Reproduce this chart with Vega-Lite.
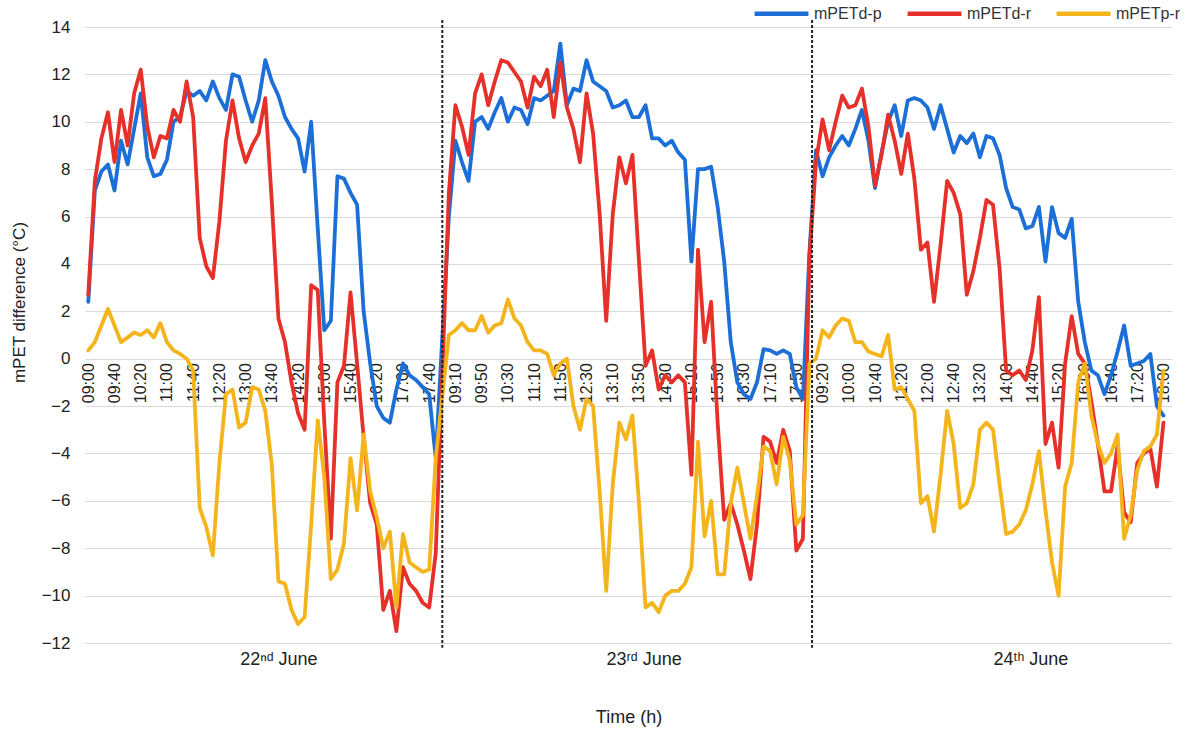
{
  "$schema": "https://vega.github.io/schema/vega-lite/v6.json",
  "width": 1087,
  "height": 616,
  "autosize": {"type": "none"},
  "padding": {"left": 85, "top": 27, "right": 18, "bottom": 93},
  "background": "white",
  "config": {"view": {"stroke": null}, "font": "Liberation Sans"},
  "layer": [
    {
      "data": {"values": [
        {"i":0,"day":"22 June","time":"09:00","mPETd-p":2.4,"mPETd-r":2.7,"mPETp-r":0.35},
        {"i":1,"day":"22 June","time":"09:10","mPETd-p":7.1,"mPETd-r":7.5,"mPETp-r":0.7},
        {"i":2,"day":"22 June","time":"09:20","mPETd-p":7.9,"mPETd-r":9.3,"mPETp-r":1.4},
        {"i":3,"day":"22 June","time":"09:30","mPETd-p":8.2,"mPETd-r":10.4,"mPETp-r":2.1},
        {"i":4,"day":"22 June","time":"09:40","mPETd-p":7.1,"mPETd-r":8.3,"mPETp-r":1.4},
        {"i":5,"day":"22 June","time":"09:50","mPETd-p":9.2,"mPETd-r":10.5,"mPETp-r":0.7},
        {"i":6,"day":"22 June","time":"10:00","mPETd-p":8.2,"mPETd-r":9.0,"mPETp-r":0.9},
        {"i":7,"day":"22 June","time":"10:10","mPETd-p":9.7,"mPETd-r":11.2,"mPETp-r":1.1},
        {"i":8,"day":"22 June","time":"10:20","mPETd-p":11.2,"mPETd-r":12.2,"mPETp-r":1.0},
        {"i":9,"day":"22 June","time":"10:30","mPETd-p":8.5,"mPETd-r":9.8,"mPETp-r":1.2},
        {"i":10,"day":"22 June","time":"10:40","mPETd-p":7.7,"mPETd-r":8.5,"mPETp-r":0.9},
        {"i":11,"day":"22 June","time":"10:50","mPETd-p":7.8,"mPETd-r":9.4,"mPETp-r":1.5},
        {"i":12,"day":"22 June","time":"11:00","mPETd-p":8.4,"mPETd-r":9.3,"mPETp-r":0.7},
        {"i":13,"day":"22 June","time":"11:10","mPETd-p":10.0,"mPETd-r":10.5,"mPETp-r":0.35},
        {"i":14,"day":"22 June","time":"11:20","mPETd-p":10.2,"mPETd-r":10.0,"mPETp-r":0.2},
        {"i":15,"day":"22 June","time":"11:30","mPETd-p":11.3,"mPETd-r":11.7,"mPETp-r":0.0},
        {"i":16,"day":"22 June","time":"11:40","mPETd-p":11.1,"mPETd-r":10.2,"mPETp-r":-0.5},
        {"i":17,"day":"22 June","time":"11:50","mPETd-p":11.3,"mPETd-r":5.1,"mPETp-r":-6.3},
        {"i":18,"day":"22 June","time":"12:00","mPETd-p":10.9,"mPETd-r":3.9,"mPETp-r":-7.1},
        {"i":19,"day":"22 June","time":"12:10","mPETd-p":11.7,"mPETd-r":3.4,"mPETp-r":-8.3},
        {"i":20,"day":"22 June","time":"12:20","mPETd-p":11.0,"mPETd-r":5.8,"mPETp-r":-4.4},
        {"i":21,"day":"22 June","time":"12:30","mPETd-p":10.5,"mPETd-r":9.2,"mPETp-r":-1.5},
        {"i":22,"day":"22 June","time":"12:40","mPETd-p":12.0,"mPETd-r":10.9,"mPETp-r":-1.3},
        {"i":23,"day":"22 June","time":"12:50","mPETd-p":11.9,"mPETd-r":9.3,"mPETp-r":-2.9},
        {"i":24,"day":"22 June","time":"13:00","mPETd-p":10.9,"mPETd-r":8.3,"mPETp-r":-2.7},
        {"i":25,"day":"22 June","time":"13:10","mPETd-p":10.0,"mPETd-r":9.0,"mPETp-r":-1.2},
        {"i":26,"day":"22 June","time":"13:20","mPETd-p":10.9,"mPETd-r":9.5,"mPETp-r":-1.3},
        {"i":27,"day":"22 June","time":"13:30","mPETd-p":12.6,"mPETd-r":11.0,"mPETp-r":-2.2},
        {"i":28,"day":"22 June","time":"13:40","mPETd-p":11.7,"mPETd-r":6.6,"mPETp-r":-4.5},
        {"i":29,"day":"22 June","time":"13:50","mPETd-p":11.1,"mPETd-r":1.7,"mPETp-r":-9.4},
        {"i":30,"day":"22 June","time":"14:00","mPETd-p":10.2,"mPETd-r":0.7,"mPETp-r":-9.5},
        {"i":31,"day":"22 June","time":"14:10","mPETd-p":9.7,"mPETd-r":-1.0,"mPETp-r":-10.6},
        {"i":32,"day":"22 June","time":"14:20","mPETd-p":9.3,"mPETd-r":-2.3,"mPETp-r":-11.2},
        {"i":33,"day":"22 June","time":"14:30","mPETd-p":7.9,"mPETd-r":-3.0,"mPETp-r":-10.9},
        {"i":34,"day":"22 June","time":"14:40","mPETd-p":10.0,"mPETd-r":3.1,"mPETp-r":-7.0},
        {"i":35,"day":"22 June","time":"14:50","mPETd-p":5.5,"mPETd-r":2.9,"mPETp-r":-2.6},
        {"i":36,"day":"22 June","time":"15:00","mPETd-p":1.2,"mPETd-r":-2.7,"mPETp-r":-5.0},
        {"i":37,"day":"22 June","time":"15:10","mPETd-p":1.6,"mPETd-r":-7.6,"mPETp-r":-9.3},
        {"i":38,"day":"22 June","time":"15:20","mPETd-p":7.7,"mPETd-r":-1.0,"mPETp-r":-8.9},
        {"i":39,"day":"22 June","time":"15:30","mPETd-p":7.6,"mPETd-r":-0.3,"mPETp-r":-7.8},
        {"i":40,"day":"22 June","time":"15:40","mPETd-p":7.0,"mPETd-r":2.8,"mPETp-r":-4.2},
        {"i":41,"day":"22 June","time":"15:50","mPETd-p":6.5,"mPETd-r":-0.2,"mPETp-r":-6.4},
        {"i":42,"day":"22 June","time":"16:00","mPETd-p":2.0,"mPETd-r":-3.3,"mPETp-r":-3.2},
        {"i":43,"day":"22 June","time":"16:10","mPETd-p":-0.2,"mPETd-r":-6.1,"mPETp-r":-5.6},
        {"i":44,"day":"22 June","time":"16:20","mPETd-p":-2.0,"mPETd-r":-7.0,"mPETp-r":-6.7},
        {"i":45,"day":"22 June","time":"16:30","mPETd-p":-2.5,"mPETd-r":-10.6,"mPETp-r":-8.0},
        {"i":46,"day":"22 June","time":"16:40","mPETd-p":-2.7,"mPETd-r":-9.8,"mPETp-r":-7.3},
        {"i":47,"day":"22 June","time":"16:50","mPETd-p":-1.3,"mPETd-r":-11.5,"mPETp-r":-10.5},
        {"i":48,"day":"22 June","time":"17:00","mPETd-p":-0.2,"mPETd-r":-8.8,"mPETp-r":-7.4},
        {"i":49,"day":"22 June","time":"17:10","mPETd-p":-0.7,"mPETd-r":-9.5,"mPETp-r":-8.6},
        {"i":50,"day":"22 June","time":"17:20","mPETd-p":-0.9,"mPETd-r":-9.8,"mPETp-r":-8.8},
        {"i":51,"day":"22 June","time":"17:30","mPETd-p":-1.2,"mPETd-r":-10.3,"mPETp-r":-9.0},
        {"i":52,"day":"22 June","time":"17:40","mPETd-p":-1.5,"mPETd-r":-10.5,"mPETp-r":-8.9},
        {"i":53,"day":"22 June","time":"17:50","mPETd-p":-4.2,"mPETd-r":-8.2,"mPETp-r":-4.2},
        {"i":55,"day":"23 June","time":"09:00","mPETd-p":6.0,"mPETd-r":7.0,"mPETp-r":1.0},
        {"i":56,"day":"23 June","time":"09:10","mPETd-p":9.2,"mPETd-r":10.7,"mPETp-r":1.2},
        {"i":57,"day":"23 June","time":"09:20","mPETd-p":8.3,"mPETd-r":9.8,"mPETp-r":1.5},
        {"i":58,"day":"23 June","time":"09:30","mPETd-p":7.5,"mPETd-r":8.6,"mPETp-r":1.2},
        {"i":59,"day":"23 June","time":"09:40","mPETd-p":10.0,"mPETd-r":11.2,"mPETp-r":1.2},
        {"i":60,"day":"23 June","time":"09:50","mPETd-p":10.2,"mPETd-r":12.0,"mPETp-r":1.8},
        {"i":61,"day":"23 June","time":"10:00","mPETd-p":9.7,"mPETd-r":10.7,"mPETp-r":1.1},
        {"i":62,"day":"23 June","time":"10:10","mPETd-p":10.4,"mPETd-r":11.7,"mPETp-r":1.4},
        {"i":63,"day":"23 June","time":"10:20","mPETd-p":11.0,"mPETd-r":12.6,"mPETp-r":1.5},
        {"i":64,"day":"23 June","time":"10:30","mPETd-p":10.0,"mPETd-r":12.5,"mPETp-r":2.5},
        {"i":65,"day":"23 June","time":"10:40","mPETd-p":10.6,"mPETd-r":12.1,"mPETp-r":1.7},
        {"i":66,"day":"23 June","time":"10:50","mPETd-p":10.5,"mPETd-r":11.7,"mPETp-r":1.4},
        {"i":67,"day":"23 June","time":"11:00","mPETd-p":9.9,"mPETd-r":10.6,"mPETp-r":0.7},
        {"i":68,"day":"23 June","time":"11:10","mPETd-p":11.0,"mPETd-r":11.9,"mPETp-r":0.35},
        {"i":69,"day":"23 June","time":"11:20","mPETd-p":10.9,"mPETd-r":11.5,"mPETp-r":0.35},
        {"i":70,"day":"23 June","time":"11:30","mPETd-p":11.1,"mPETd-r":12.2,"mPETp-r":0.2},
        {"i":71,"day":"23 June","time":"11:40","mPETd-p":11.3,"mPETd-r":10.2,"mPETp-r":-0.7},
        {"i":72,"day":"23 June","time":"11:50","mPETd-p":13.3,"mPETd-r":12.5,"mPETp-r":-0.2},
        {"i":73,"day":"23 June","time":"12:00","mPETd-p":10.7,"mPETd-r":10.6,"mPETp-r":0.0},
        {"i":74,"day":"23 June","time":"12:10","mPETd-p":11.4,"mPETd-r":9.7,"mPETp-r":-2.0},
        {"i":75,"day":"23 June","time":"12:20","mPETd-p":11.3,"mPETd-r":8.3,"mPETp-r":-3.0},
        {"i":76,"day":"23 June","time":"12:30","mPETd-p":12.6,"mPETd-r":11.2,"mPETp-r":-1.7},
        {"i":77,"day":"23 June","time":"12:40","mPETd-p":11.7,"mPETd-r":9.5,"mPETp-r":-2.0},
        {"i":78,"day":"23 June","time":"12:50","mPETd-p":11.5,"mPETd-r":6.1,"mPETp-r":-5.6},
        {"i":79,"day":"23 June","time":"13:00","mPETd-p":11.3,"mPETd-r":1.6,"mPETp-r":-9.8},
        {"i":80,"day":"23 June","time":"13:10","mPETd-p":10.6,"mPETd-r":6.1,"mPETp-r":-5.3},
        {"i":81,"day":"23 June","time":"13:20","mPETd-p":10.7,"mPETd-r":8.5,"mPETp-r":-2.7},
        {"i":82,"day":"23 June","time":"13:30","mPETd-p":10.9,"mPETd-r":7.4,"mPETp-r":-3.4},
        {"i":83,"day":"23 June","time":"13:40","mPETd-p":10.2,"mPETd-r":8.6,"mPETp-r":-2.4},
        {"i":84,"day":"23 June","time":"13:50","mPETd-p":10.2,"mPETd-r":4.1,"mPETp-r":-6.1},
        {"i":85,"day":"23 June","time":"14:00","mPETd-p":10.7,"mPETd-r":-0.3,"mPETp-r":-10.5},
        {"i":86,"day":"23 June","time":"14:10","mPETd-p":9.3,"mPETd-r":0.35,"mPETp-r":-10.3},
        {"i":87,"day":"23 June","time":"14:20","mPETd-p":9.3,"mPETd-r":-1.3,"mPETp-r":-10.7},
        {"i":88,"day":"23 June","time":"14:30","mPETd-p":9.0,"mPETd-r":-0.7,"mPETp-r":-10.0},
        {"i":89,"day":"23 June","time":"14:40","mPETd-p":9.2,"mPETd-r":-1.0,"mPETp-r":-9.8},
        {"i":90,"day":"23 June","time":"14:50","mPETd-p":8.7,"mPETd-r":-0.7,"mPETp-r":-9.8},
        {"i":91,"day":"23 June","time":"15:00","mPETd-p":8.4,"mPETd-r":-1.0,"mPETp-r":-9.5},
        {"i":92,"day":"23 June","time":"15:10","mPETd-p":4.1,"mPETd-r":-4.9,"mPETp-r":-8.8},
        {"i":93,"day":"23 June","time":"15:20","mPETd-p":8.0,"mPETd-r":4.6,"mPETp-r":-3.5},
        {"i":94,"day":"23 June","time":"15:30","mPETd-p":8.0,"mPETd-r":0.7,"mPETp-r":-7.5},
        {"i":95,"day":"23 June","time":"15:40","mPETd-p":8.1,"mPETd-r":2.4,"mPETp-r":-6.0},
        {"i":96,"day":"23 June","time":"15:50","mPETd-p":6.4,"mPETd-r":-2.7,"mPETp-r":-9.1},
        {"i":97,"day":"23 June","time":"16:00","mPETd-p":4.1,"mPETd-r":-6.8,"mPETp-r":-9.1},
        {"i":98,"day":"23 June","time":"16:10","mPETd-p":0.7,"mPETd-r":-6.1,"mPETp-r":-6.1},
        {"i":99,"day":"23 June","time":"16:20","mPETd-p":-1.0,"mPETd-r":-7.0,"mPETp-r":-4.6},
        {"i":100,"day":"23 June","time":"16:30","mPETd-p":-1.5,"mPETd-r":-8.1,"mPETp-r":-6.1},
        {"i":101,"day":"23 June","time":"16:40","mPETd-p":-1.7,"mPETd-r":-9.3,"mPETp-r":-7.6},
        {"i":102,"day":"23 June","time":"16:50","mPETd-p":-1.0,"mPETd-r":-7.0,"mPETp-r":-5.8},
        {"i":103,"day":"23 June","time":"17:00","mPETd-p":0.4,"mPETd-r":-3.3,"mPETp-r":-3.7},
        {"i":104,"day":"23 June","time":"17:10","mPETd-p":0.35,"mPETd-r":-3.5,"mPETp-r":-3.9},
        {"i":105,"day":"23 June","time":"17:20","mPETd-p":0.2,"mPETd-r":-4.4,"mPETp-r":-5.3},
        {"i":106,"day":"23 June","time":"17:30","mPETd-p":0.35,"mPETd-r":-3.0,"mPETp-r":-3.3},
        {"i":107,"day":"23 June","time":"17:40","mPETd-p":0.2,"mPETd-r":-3.9,"mPETp-r":-4.3},
        {"i":108,"day":"23 June","time":"17:50","mPETd-p":-1.2,"mPETd-r":-8.1,"mPETp-r":-7.0},
        {"i":109,"day":"23 June","time":"18:00","mPETd-p":-1.7,"mPETd-r":-7.6,"mPETp-r":-6.6},
        {"i":110,"day":"24 June","time":"09:00","mPETd-p":4.5,"mPETd-r":4.3,"mPETp-r":-0.2},
        {"i":111,"day":"24 June","time":"09:10","mPETd-p":8.8,"mPETd-r":8.3,"mPETp-r":0.0},
        {"i":112,"day":"24 June","time":"09:20","mPETd-p":7.7,"mPETd-r":10.1,"mPETp-r":1.2},
        {"i":113,"day":"24 June","time":"09:30","mPETd-p":8.5,"mPETd-r":8.8,"mPETp-r":0.9},
        {"i":114,"day":"24 June","time":"09:40","mPETd-p":9.0,"mPETd-r":10.0,"mPETp-r":1.4},
        {"i":115,"day":"24 June","time":"09:50","mPETd-p":9.4,"mPETd-r":11.1,"mPETp-r":1.7},
        {"i":116,"day":"24 June","time":"10:00","mPETd-p":9.0,"mPETd-r":10.6,"mPETp-r":1.6},
        {"i":117,"day":"24 June","time":"10:10","mPETd-p":9.7,"mPETd-r":10.7,"mPETp-r":0.7},
        {"i":118,"day":"24 June","time":"10:20","mPETd-p":10.5,"mPETd-r":11.4,"mPETp-r":0.7},
        {"i":119,"day":"24 June","time":"10:30","mPETd-p":9.2,"mPETd-r":9.8,"mPETp-r":0.3},
        {"i":120,"day":"24 June","time":"10:40","mPETd-p":7.2,"mPETd-r":7.3,"mPETp-r":0.2},
        {"i":121,"day":"24 June","time":"10:50","mPETd-p":8.7,"mPETd-r":8.6,"mPETp-r":0.1},
        {"i":122,"day":"24 June","time":"11:00","mPETd-p":10.0,"mPETd-r":10.3,"mPETp-r":1.0},
        {"i":123,"day":"24 June","time":"11:10","mPETd-p":10.7,"mPETd-r":9.2,"mPETp-r":-1.3},
        {"i":124,"day":"24 June","time":"11:20","mPETd-p":9.4,"mPETd-r":7.8,"mPETp-r":-1.2},
        {"i":125,"day":"24 June","time":"11:30","mPETd-p":10.9,"mPETd-r":9.5,"mPETp-r":-1.7},
        {"i":126,"day":"24 June","time":"11:40","mPETd-p":11.0,"mPETd-r":7.6,"mPETp-r":-2.2},
        {"i":127,"day":"24 June","time":"11:50","mPETd-p":10.9,"mPETd-r":4.6,"mPETp-r":-6.1},
        {"i":128,"day":"24 June","time":"12:00","mPETd-p":10.6,"mPETd-r":4.9,"mPETp-r":-5.8},
        {"i":129,"day":"24 June","time":"12:10","mPETd-p":9.7,"mPETd-r":2.4,"mPETp-r":-7.3},
        {"i":130,"day":"24 June","time":"12:20","mPETd-p":10.7,"mPETd-r":4.8,"mPETp-r":-4.9},
        {"i":131,"day":"24 June","time":"12:30","mPETd-p":9.7,"mPETd-r":7.5,"mPETp-r":-2.2},
        {"i":132,"day":"24 June","time":"12:40","mPETd-p":8.7,"mPETd-r":7.0,"mPETp-r":-3.6},
        {"i":133,"day":"24 June","time":"12:50","mPETd-p":9.4,"mPETd-r":6.1,"mPETp-r":-6.3},
        {"i":134,"day":"24 June","time":"13:00","mPETd-p":9.1,"mPETd-r":2.7,"mPETp-r":-6.1},
        {"i":135,"day":"24 June","time":"13:10","mPETd-p":9.5,"mPETd-r":3.7,"mPETp-r":-5.3},
        {"i":136,"day":"24 June","time":"13:20","mPETd-p":8.5,"mPETd-r":5.1,"mPETp-r":-3.0},
        {"i":137,"day":"24 June","time":"13:30","mPETd-p":9.4,"mPETd-r":6.7,"mPETp-r":-2.7},
        {"i":138,"day":"24 June","time":"13:40","mPETd-p":9.3,"mPETd-r":6.5,"mPETp-r":-3.0},
        {"i":139,"day":"24 June","time":"13:50","mPETd-p":8.6,"mPETd-r":3.8,"mPETp-r":-5.3},
        {"i":140,"day":"24 June","time":"14:00","mPETd-p":7.2,"mPETd-r":-0.5,"mPETp-r":-7.4},
        {"i":141,"day":"24 June","time":"14:10","mPETd-p":6.4,"mPETd-r":-0.7,"mPETp-r":-7.3},
        {"i":142,"day":"24 June","time":"14:20","mPETd-p":6.3,"mPETd-r":-0.5,"mPETp-r":-7.0},
        {"i":143,"day":"24 June","time":"14:30","mPETd-p":5.5,"mPETd-r":-0.9,"mPETp-r":-6.4},
        {"i":144,"day":"24 June","time":"14:40","mPETd-p":5.6,"mPETd-r":0.35,"mPETp-r":-5.3},
        {"i":145,"day":"24 June","time":"14:50","mPETd-p":6.4,"mPETd-r":2.6,"mPETp-r":-3.9},
        {"i":146,"day":"24 June","time":"15:00","mPETd-p":4.1,"mPETd-r":-3.6,"mPETp-r":-6.4},
        {"i":147,"day":"24 June","time":"15:10","mPETd-p":6.4,"mPETd-r":-2.7,"mPETp-r":-8.6},
        {"i":148,"day":"24 June","time":"15:20","mPETd-p":5.3,"mPETd-r":-4.6,"mPETp-r":-10.0},
        {"i":149,"day":"24 June","time":"15:30","mPETd-p":5.1,"mPETd-r":-0.2,"mPETp-r":-5.4},
        {"i":150,"day":"24 June","time":"15:40","mPETd-p":5.9,"mPETd-r":1.8,"mPETp-r":-4.4},
        {"i":151,"day":"24 June","time":"15:50","mPETd-p":2.4,"mPETd-r":0.2,"mPETp-r":-1.0},
        {"i":152,"day":"24 June","time":"16:00","mPETd-p":0.7,"mPETd-r":-0.2,"mPETp-r":-0.2},
        {"i":153,"day":"24 June","time":"16:10","mPETd-p":-0.5,"mPETd-r":-1.8,"mPETp-r":-2.4},
        {"i":154,"day":"24 June","time":"16:20","mPETd-p":-0.7,"mPETd-r":-3.6,"mPETp-r":-3.6},
        {"i":155,"day":"24 June","time":"16:30","mPETd-p":-1.5,"mPETd-r":-5.6,"mPETp-r":-4.4},
        {"i":156,"day":"24 June","time":"16:40","mPETd-p":-0.7,"mPETd-r":-5.6,"mPETp-r":-4.0},
        {"i":157,"day":"24 June","time":"16:50","mPETd-p":0.3,"mPETd-r":-3.7,"mPETp-r":-3.2},
        {"i":158,"day":"24 June","time":"17:00","mPETd-p":1.4,"mPETd-r":-6.5,"mPETp-r":-7.6},
        {"i":159,"day":"24 June","time":"17:10","mPETd-p":-0.3,"mPETd-r":-6.9,"mPETp-r":-6.6},
        {"i":160,"day":"24 June","time":"17:20","mPETd-p":-0.2,"mPETd-r":-4.4,"mPETp-r":-4.7},
        {"i":161,"day":"24 June","time":"17:30","mPETd-p":-0.1,"mPETd-r":-4.0,"mPETp-r":-3.9},
        {"i":162,"day":"24 June","time":"17:40","mPETd-p":0.2,"mPETd-r":-3.8,"mPETp-r":-3.7},
        {"i":163,"day":"24 June","time":"17:50","mPETd-p":-2.0,"mPETd-r":-5.4,"mPETp-r":-3.2},
        {"i":164,"day":"24 June","time":"18:00","mPETd-p":-2.4,"mPETd-r":-2.7,"mPETp-r":-0.5}
      ]},
      "transform": [{"fold": ["mPETd-p", "mPETd-r", "mPETp-r"], "as": ["series", "value"]}],
      "mark": {"type": "line", "strokeWidth": 3.8, "strokeJoin": "round", "strokeCap": "round"},
      "encoding": {
        "x": {
          "field": "i", "type": "quantitative",
          "scale": {"domain": [-0.5, 165.3], "nice": false, "zero": false},
          "axis": {
            "orient": "bottom", "offset": -284.3,
            "values": [0,4,8,12,16,20,24,28,32,36,40,44,48,52,56,60,64,68,72,76,80,84,88,92,96,100,104,108,112,116,120,124,128,132,136,140,144,148,152,156,160,164],
            "labelExpr": "timeFormat(datetime(2020, 5, 22, 9, (datum.value % 55) * 10), '%H:%M')",
            "labelAngle": -90, "labelFontSize": 16, "labelColor": "#222222", "labelPadding": 4,
            "labelOverlap": false, "labelFlush": false,
            "ticks": false, "domain": false, "grid": false, "title": null
          }
        },
        "y": {
          "field": "value", "type": "quantitative",
          "scale": {"domain": [-12, 14], "nice": false, "zero": false},
          "axis": {
            "values": [-12,-10,-8,-6,-4,-2,0,2,4,6,8,10,12,14],
            "grid": true, "gridColor": "#d9d9d9", "gridWidth": 1.2,
            "ticks": false, "domain": false,
            "labelFontSize": 17, "labelColor": "#222222", "labelPadding": 15,
            "title": "mPET difference (°C)", "titleFontSize": 17, "titleFontWeight": "normal",
            "titleColor": "#222222", "titlePadding": 13, "titleY": 275
          }
        },
        "color": {
          "field": "series", "type": "nominal",
          "scale": {"domain": ["mPETd-p", "mPETd-r", "mPETp-r"], "range": ["#1b6fd6", "#e6302a", "#f4b41c"]},
          "legend": {
            "orient": "none", "legendX": 667, "legendY": -43, "direction": "horizontal",
            "title": null, "symbolType": "stroke", "symbolSize": 2900, "symbolStrokeWidth": 4.5,
            "labelFontSize": 16, "labelColor": "#333333", "columnPadding": 16, "labelOffset": 3
          }
        }
      }
    },
    {
      "data": {"values": [{"boundary": 54.0}, {"boundary": 110.4}]},
      "mark": {"type": "rule", "strokeDash": [3, 2], "strokeWidth": 2, "color": "#222222"},
      "encoding": {
        "x": {
          "field": "boundary", "type": "quantitative",
          "axis": {
            "orient": "bottom", "values": [29, 84.7, 143.7],
            "labelExpr": "datum.value < 50 ? '22ⁿᵈ June' : datum.value < 100 ? '23ʳᵈ June' : '24ᵗʰ June'",
            "labelAngle": 0, "labelFontSize": 18, "labelColor": "#222222", "labelPadding": 7,
            "ticks": false, "domain": false, "grid": false,
            "title": "Time (h)", "titleFontSize": 18, "titleFontWeight": "normal", "titleColor": "#222222", "titlePadding": 40
          }
        },
        "y": {"datum": 14.3},
        "y2": {"datum": -12.2}
      }
    }
  ],
  "resolve": {"axis": {"x": "independent"}}
}
